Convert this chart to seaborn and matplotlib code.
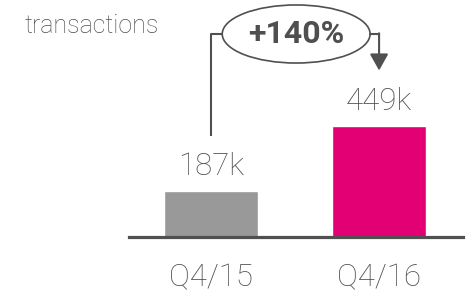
import matplotlib
matplotlib.use("Agg")
import matplotlib.pyplot as plt
import matplotlib.patches as patches
import seaborn as sns
import pandas as pd

quarters = ["Q4/15", "Q4/16"]
transactions_k = [187, 449]
bar_colors = ["#999999", "#e20074"]

TEXT = "#4f4f4f"
LINE = "#505050"

sns.set_style("white")
plt.rcParams["font.family"] = ["Roboto", "DejaVu Sans"]

df = pd.DataFrame({"quarter": quarters, "value": transactions_k})

fig = plt.figure(figsize=(4.71, 2.99), dpi=100)
# axes: baseline at 62px from bottom, spans x 129..463 px
ax = fig.add_axes([129 / 471, 62 / 299, 334 / 471, 237 / 299])

sns.barplot(data=df, x="quarter", y="value", hue="quarter", palette=bar_colors,
            width=0.56, saturation=1, legend=False, ax=ax)

ax.set_xlim(-0.49, 1.5)
ax.set_ylim(0, 955)
ax.set_xlabel("")
ax.set_ylabel("")
ax.set_yticks([])
sns.despine(ax=ax, left=True)
ax.spines["bottom"].set_color(LINE)
ax.spines["bottom"].set_linewidth(2.3)
ax.tick_params(axis="x", length=0, pad=19, labelsize=22.5, labelcolor=TEXT)
for lab in ax.get_xticklabels():
    lab.set_fontweight("light")

for container in ax.containers:
    ax.bar_label(container, labels=[f"{int(v)}k" for v in container.datavalues],
                 padding=7, fontsize=22.5, color=TEXT, fontweight="light")

# growth bracket
v0, v1 = transactions_k
growth = round((v1 / v0 - 1) * 100, -1)
y_top = v1 + 369
ell_cx, ell_w, ell_h = 0.506, 0.881, 234
ax.plot([0, 0, ell_cx - ell_w / 2], [v0 + 218, y_top, y_top],
        color=LINE, lw=1.5, clip_on=False, solid_capstyle="butt")
ax.plot([ell_cx + ell_w / 2, 1], [y_top, y_top], color=LINE, lw=1.5, clip_on=False)
ax.annotate("", xy=(1, v1 + 222), xytext=(1, y_top + 3),
            arrowprops=dict(arrowstyle="-|>,head_length=0.5,head_width=0.28",
                            mutation_scale=20, color=LINE, lw=1.5,
                            shrinkA=0, shrinkB=0),
            annotation_clip=False)
ax.add_patch(patches.Ellipse((ell_cx, y_top), ell_w, ell_h, fill=False,
                             edgecolor=LINE, lw=1.2, clip_on=False))
ax.text(ell_cx, y_top, f"+{growth:.0f}%", ha="center", va="center",
        fontsize=23, fontweight="bold", color=TEXT)

fig.text(25 / 471, 1 - 26 / 299, "transactions", ha="left", va="center",
         fontsize=18, color=TEXT, fontweight="light")

fig.savefig("out.png", dpi=100)
